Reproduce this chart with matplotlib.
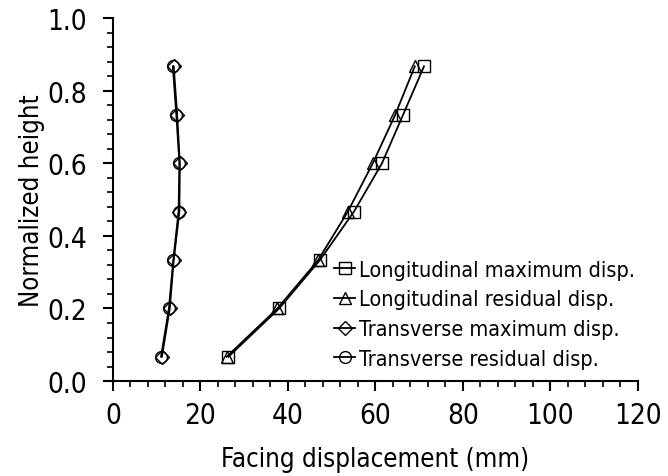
import matplotlib
matplotlib.use('Agg')
import matplotlib.pyplot as plt
from matplotlib.ticker import MultipleLocator, FormatStrFormatter

# normalized height of the measuring points along the facing
height = [0.067, 0.2, 0.333, 0.467, 0.6, 0.733, 0.867]

long_max = [26.4, 38.0, 47.3, 55.1, 61.5, 66.3, 71.1]
long_res = [26.0, 37.6, 46.9, 53.7, 59.4, 64.5, 69.0]
trans_max = [11.2, 13.0, 13.9, 15.2, 15.3, 14.7, 13.9]
trans_res = [11.0, 12.8, 13.8, 15.0, 15.2, 14.5, 13.7]

labels = ['Longitudinal maximum disp.', 'Longitudinal residual disp.',
          'Transverse maximum disp.', 'Transverse residual disp.']
markers = ['s', '^', 'D', 'o']

plt.rcParams['font.family'] = ['DejaVu Sans']
plt.rcParams['font.stretch'] = 'condensed'

fig = plt.figure(figsize=(6.68, 4.77), dpi=100)
ax = fig.add_axes([0.169, 0.199, 0.786, 0.761])

for x, lab, m in zip([long_max, long_res, trans_max, trans_res], labels, markers):
    ms = 7.5 if m == 'D' else 8.5
    ax.plot(x, height, color='black', lw=1.3, marker=m, ms=ms,
            mfc='none', mec='black', mew=1.0, label=lab)

ax.set_xlim(0, 120)
ax.set_ylim(0, 1.0)
ax.xaxis.set_major_locator(MultipleLocator(20))
ax.xaxis.set_minor_locator(MultipleLocator(4))
ax.yaxis.set_major_locator(MultipleLocator(0.2))
ax.yaxis.set_minor_locator(MultipleLocator(0.04))
ax.yaxis.set_major_formatter(FormatStrFormatter('%.1f'))

for s in ['top', 'right']:
    ax.spines[s].set_visible(False)
for s in ['left', 'bottom']:
    ax.spines[s].set_linewidth(1.5)
ax.tick_params(which='major', direction='out', length=7.5, width=1.5, labelsize=20)
ax.tick_params(which='minor', direction='out', length=4.5, width=1.2)
ax.tick_params(axis='y', which='major', pad=11)
ax.tick_params(axis='x', which='major', pad=7)

ax.set_xlabel('Facing displacement (mm)', fontsize=18.5, labelpad=12)
ax.set_ylabel('Normalized height', fontsize=18.5, labelpad=2)

ax.legend(loc='lower right', bbox_to_anchor=(1.01, 0.01), frameon=False,
          fontsize=15.5, handlelength=1.0, handletextpad=0.15, labelspacing=0.45,
          borderaxespad=0.2, borderpad=0.2)

fig.savefig('out.png', dpi=100)
